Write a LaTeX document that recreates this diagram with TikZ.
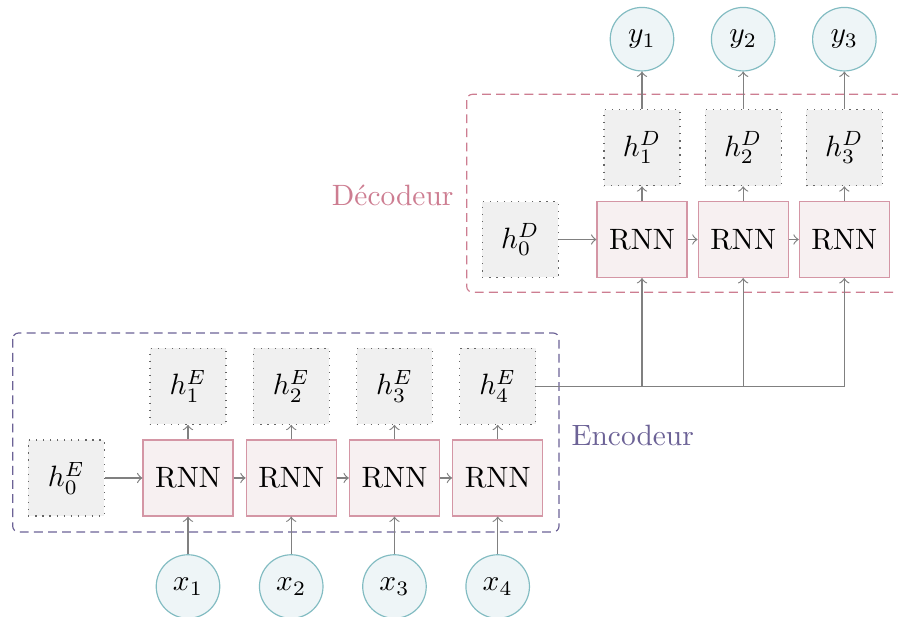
\documentclass[tikz,border=0pt]{standalone}
\usepackage{fontspec}
\usetikzlibrary{positioning}
\definecolor{rnnfill}{RGB}{247,240,241}
\definecolor{rnndraw}{RGB}{212,150,165}
\definecolor{hfill}{RGB}{240,240,240}
\definecolor{iofill}{RGB}{238,245,247}
\definecolor{iodraw}{RGB}{130,188,194}
\definecolor{linkgray}{RGB}{128,128,128}
\definecolor{enccol}{RGB}{108,98,150}
\definecolor{deccol}{RGB}{205,125,145}
\begin{document}
\begin{tikzpicture}[
	x=0.34pt, y=-0.34pt,% pixel grid of the picture
	auto,
	node distance=12.8pt,
	rnn/.style={draw=rnndraw, fill=rnnfill, minimum width=30.6pt, minimum height=25.8pt, inner sep=0pt},
	hidden/.style={draw=black!60, dotted, fill=hfill, minimum size=25.8pt, inner sep=0pt},
	io/.style={circle, draw=iodraw, fill=iofill, minimum size=21.6pt, inner sep=0pt},
	link/.style={->, draw=linkgray},
	group/.style={dashed, dash pattern=on 3pt off 1.8pt, rounded corners=2pt}
]
\useasboundingbox (0,0) rectangle (898,617);
%
% Encodeur
\node(e1)%
    [rnn] at (188,478)%
    {RNN};%
\foreach \p/\i in {1/2,2/3,3/4}
    \node(e\i)[rnn, right=4.1pt of e\p]{RNN};
\node(he0)[hidden, left=of e1]{$h^E_0$};
\foreach \i in {1,...,4}{
    \node(he\i)[hidden, above=5pt of e\i]{$h^E_\i$};
    \node(x\i)[io, below=of e\i]{$x_\i$};
}
%
% Decodeur
\node(d1)%
    [rnn] at (642,239.5)%
    {RNN};%
\foreach \p/\i in {1/2,2/3}
    \node(d\i)[rnn, right=3.4pt of d\p]{RNN};
\node(hd0)[hidden, left=of d1]{$h^D_0$};
\foreach \i in {1,...,3}{
    \node(hd\i)[hidden, above=5pt of d\i]{$h^D_\i$};
    \node(y\i)[io, above=of hd\i]{$y_\i$};
}
%
% Cadres
\draw[group, draw=enccol] (12.7,333) rectangle (559,532);
\draw[group, draw=deccol] (466.7,94.3) rectangle (930,292.3);
\node(enc)[anchor=west, text=enccol, inner sep=0pt] at (571,435) {Encodeur};
\node(dec)[anchor=east, text=deccol, inner sep=0pt] at (454,195) {Décodeur};
%
% Liens
\draw[link] (he0) -- (e1);
\draw[link] (hd0) -- (d1);
\foreach \p/\i in {1/2,2/3,3/4}
    \draw[link] (e\p) -- (e\i);
\foreach \p/\i in {1/2,2/3}
    \draw[link] (d\p) -- (d\i);
\foreach \i in {1,...,4}{
    \draw[link] (e\i) -- (he\i);
    \draw[link] (x\i) -- (e\i);
}
\foreach \i in {1,...,3}{
    \draw[link] (d\i) -- (hd\i);
    \draw[link] (hd\i) -- (y\i);
}
\draw[link] (he4.east) -| (d3.south);
\foreach \i in {1,2}
    \draw[link] (he4.east -| d\i.south) -- (d\i.south);
%
\end{tikzpicture}
\end{document}
